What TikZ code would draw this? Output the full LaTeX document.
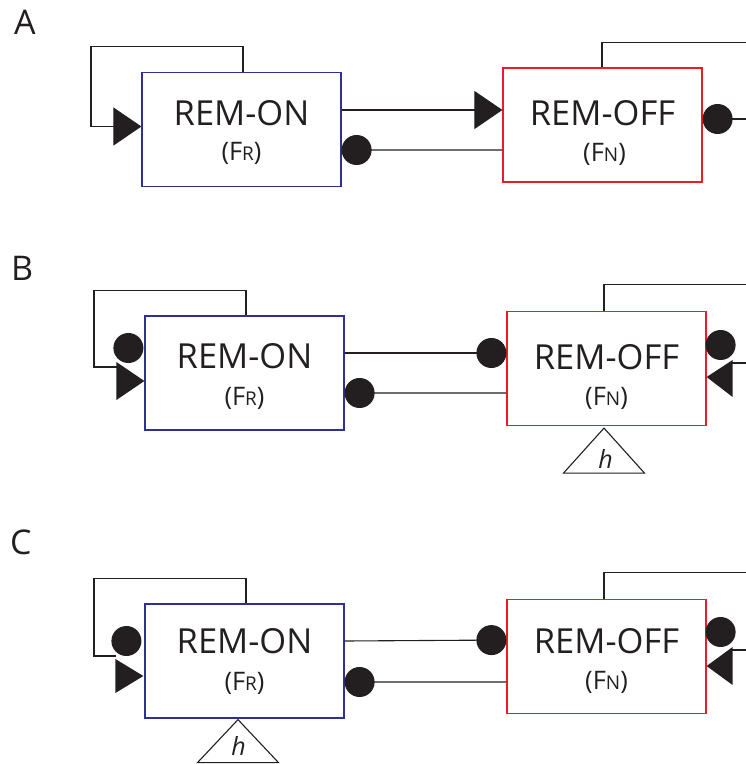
\documentclass[tikz,border=0pt]{standalone}
\usepackage{fontspec}
\setmainfont{Open Sans}
\usetikzlibrary{arrows.meta,calc}
\definecolor{ink}{RGB}{35,31,32}
\definecolor{onblue}{RGB}{46,49,146}
\definecolor{offred}{RGB}{237,28,36}
\newcommand{\fsub}[1]{(F{\fontsize{19bp}{19bp}\selectfont #1})}
\tikzset{
  onbox/.style={draw=onblue, line width=1.2bp, minimum width=199bp, minimum height=114bp, inner sep=0pt},
  offbox/.style={draw=offred, line width=1.2bp, minimum width=199bp, minimum height=114bp, inner sep=0pt},
  title/.style={anchor=base, inner sep=0pt, font=\fontsize{34.5bp}{34.5bp}\selectfont, text=ink},
  sublab/.style={anchor=base, inner sep=0pt, font=\fontsize{25.5bp}{25.5bp}\selectfont, text=ink},
  panel/.style={anchor=base west, inner sep=0pt, font=\fontsize{34bp}{34bp}\selectfont, text=ink},
  hlab/.style={anchor=base, inner sep=0pt, font=\fontsize{25bp}{25bp}\selectfont\itshape, text=ink},
  wire/.style={draw=ink, line width=1.1bp},
  act/.style={wire, -{Triangle[length=28bp,width=38bp]}, ink},
  inh/.style={wire, -{Circle[length=30bp]}, ink},
  blob/.style={fill=ink},
}
\begin{document}
\begin{tikzpicture}[x=1bp,y=-1bp]
\useasboundingbox (0,0) rectangle (746,764);
\clip (0,0) rectangle (746,764);
% ---------------- Panel A
\node[panel] (labA) at (14,35) {A};
\node[onbox] (onA) at (241.5,129.5) {};
\node[offbox] (offA) at (602.5,125) {};
\node[title] (tonA) at ($(onA.center)+(0,-4.5)$) {REM-ON};
\node[sublab] (sonA) at ($(onA.center)+(0,30.5)$) {\fsub{R}};
\node[title] (toffA) at ($(offA.center)+(0,0)$) {REM-OFF};
\node[sublab] (soffA) at ($(offA.center)+(2,36)$) {\fsub{N}};
\draw[act] ($(onA.north)+(1.5,0)$) |- ++(-152,-25) |- ($(onA.west)+(0,-3)$);
\draw[act] ($(onA.east)+(0,-19.5)$) -- ($(offA.west)+(0,-15)$);
\draw[inh] ($(offA.west)+(0,25)$) -- ($(onA.east)+(0,20.5)$);
\draw[inh] ($(offA.north)+(-0.5,0)$) |- ++(160,-25) |- ($(offA.east)+(0,-6)$);
% ---------------- Panel B
\node[panel] (labB) at (11,280) {B};
\node[onbox] (onB) at (244.5,373) {};
\node[offbox] (offB) at (606.5,368.5) {};
\node[title] (tonB) at ($(onB.center)+(0,-5)$) {REM-ON};
\node[sublab] (sonB) at ($(onB.center)+(0,32)$) {\fsub{R}};
\node[title] (toffB) at ($(offB.center)+(0,0.5)$) {REM-OFF};
\node[sublab] (soffB) at ($(offB.center)+(0,36.5)$) {\fsub{N}};
\draw[wire] ($(onB.north)+(1.5,0)$) |- ++(-152,-25) |- ($(onB.west)+(-27,-6)$);
\fill[blob] ($(onB.west)+(-28,-11)$) -- ($(onB.west)+(0,8)$) -- ($(onB.west)+(-28,27)$) -- cycle;
\fill[blob] ($(onB.west)+(-16,-25)$) circle[radius=15];
\draw[inh] ($(onB.east)+(0,-20)$) -- ($(offB.west)+(0,-15.5)$);
\draw[inh] ($(offB.west)+(0,24.5)$) -- ($(onB.east)+(0,20)$);
\draw[wire] ($(offB.north)+(-2.5,0)$) |- ++(160,-26) |- ($(offB.east)+(25,-5.5)$);
\fill[blob] ($(offB.east)+(26,-8.5)$) -- ($(offB.east)+(0,8.5)$) -- ($(offB.east)+(26,28.5)$) -- cycle;
\fill[blob] ($(offB.east)+(14,-23.5)$) circle[radius=15];
\draw[wire, line join=miter] ($(offB.south)+(-2.5,2)$) -- ++(40.5,45) -- ++(-81,0) -- cycle;
\node[hlab] (hB) at ($(offB.south)+(-1,42)$) {h};
% ---------------- Panel C
\node[panel] (labC) at (10,554) {C};
\node[onbox] (onC) at (244.5,661) {};
\node[offbox] (offC) at (606.5,656.5) {};
\node[title] (tonC) at ($(onC.center)+(0,-8)$) {REM-ON};
\node[sublab] (sonC) at ($(onC.center)+(0,29)$) {\fsub{R}};
\node[title] (toffC) at ($(offC.center)+(0,-3.5)$) {REM-OFF};
\node[sublab] (soffC) at ($(offC.center)+(0,32.5)$) {\fsub{N}};
\draw[wire] ($(onC.north)+(1.5,0)$) |- ++(-152,-25) |- ($(onC.west)+(-28,-5)$);
\fill[blob] ($(onC.west)+(-29,-2)$) -- ($(onC.west)+(-1,15)$) -- ($(onC.west)+(-29,32)$) -- cycle;
\fill[blob] ($(onC.west)+(-18,-20)$) circle[radius=15];
\draw[inh] ($(onC.east)+(0,-20)$) -- ($(offC.west)+(0,-16.5)$);
\draw[inh] ($(offC.west)+(0,25.5)$) -- ($(onC.east)+(0,21)$);
\draw[wire] ($(offC.north)+(-2.5,0)$) |- ++(160,-26) |- ($(offC.east)+(25,-6.5)$);
\fill[blob] ($(offC.east)+(26,-9.5)$) -- ($(offC.east)+(0,9.5)$) -- ($(offC.east)+(26,28.5)$) -- cycle;
\fill[blob] ($(offC.east)+(14,-24.5)$) circle[radius=15];
\draw[wire, line join=miter] ($(onC.south)+(-6.5,1)$) -- ++(40.5,43) -- ++(-81,0) -- cycle;
\node[hlab] (hC) at ($(onC.south)+(-6,37)$) {h};
\end{tikzpicture}
\end{document}
